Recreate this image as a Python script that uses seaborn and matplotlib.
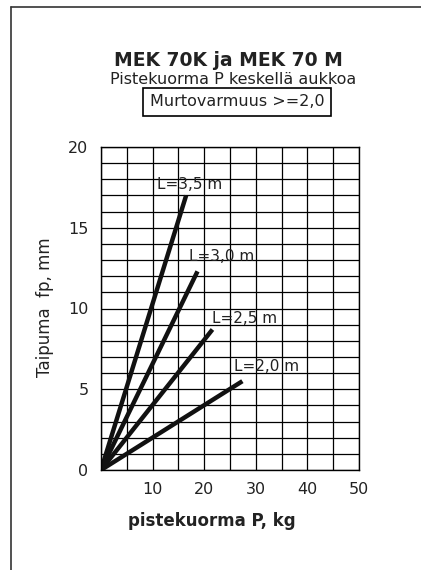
import matplotlib
matplotlib.use("Agg")
import matplotlib.pyplot as plt
import seaborn as sns
import pandas as pd
from matplotlib.lines import Line2D

sns.set_style("white")
plt.rcParams['font.family'] = ['DejaVu Sans']

# Data
spans = ["L=2,0 m", "L=2,5 m", "L=3,0 m", "L=3,5 m"]
load_end = [27.4, 21.6, 18.7, 16.5]      # kg
deflection_end = [5.5, 8.7, 12.3, 17.0]  # mm
label_x = [25.8, 21.6, 17.1, 10.8]
label_y = [6.4, 9.4, 13.2, 17.7]
x_ticks = [10, 20, 30, 40, 50]
y_ticks = [0, 5, 10, 15, 20]

rows = []
for s, xe, ye in zip(spans, load_end, deflection_end):
    rows.append({"span": s, "P": 0.0, "fp": 0.0})
    rows.append({"span": s, "P": xe, "fp": ye})
df = pd.DataFrame(rows)

W, H = 421, 570
fig = plt.figure(figsize=(W / 100, H / 100), dpi=100)
ax = fig.add_axes([101 / W, 1 - 470 / H, 258 / W, 323 / H])

ax.set_xlim(0, 50)
ax.set_ylim(0, 20)
ax.grid(True, color="black", linewidth=0.9)
ax.set_axisbelow(True)

sns.lineplot(data=df, x="P", y="fp", units="span", estimator=None,
             color="#111111", linewidth=3.2, solid_capstyle="butt", ax=ax, legend=False)

for s, lx, ly in zip(spans, label_x, label_y):
    ax.text(lx, ly, s, fontsize=11, color="#222222", va="center", ha="left")

ax.set_xticks(range(0, 51, 5))
ax.set_yticks(range(0, 21, 1))
ax.set_xticklabels([str(v) if v in x_ticks else "" for v in range(0, 51, 5)], fontsize=11.5, color="#222222")
ax.set_yticklabels([str(v) if v in y_ticks else "" for v in range(0, 21, 1)], fontsize=11.5, color="#222222")
ax.tick_params(axis="x", length=0, pad=9)
ax.tick_params(axis="y", length=0, pad=9)
for sp in ax.spines.values():
    sp.set_visible(True)
    sp.set_color("black")
    sp.set_linewidth(1.0)
ax.set_xlabel("")
ax.set_ylabel("")

fig.text(212 / W, 1 - 521 / H, "pistekuorma P, kg", ha="center", va="center",
         fontsize=12, fontweight="bold", color="#222222")
fig.text(45 / W, 1 - 307 / H, "Taipuma  fp, mm", ha="center", va="center",
         rotation=90, fontsize=12, color="#222222")

fig.text(228 / W, 1 - 60 / H, "MEK 70K ja MEK 70 M", ha="center", va="center",
         fontsize=13.5, fontweight="bold", color="#222222")
fig.text(233 / W, 1 - 79 / H, "Pistekuorma P keskellä aukkoa", ha="center", va="center",
         fontsize=11.5, color="#222222")
fig.text(237 / W, 1 - 102 / H, "Murtovarmuus >=2,0", ha="center", va="center", fontsize=11.5,
         color="#222222",
         bbox=dict(boxstyle="square,pad=0.4", facecolor="white", edgecolor="black", linewidth=1.2))

# page frame
fig.add_artist(Line2D([11 / W, 1], [1 - 7 / H, 1 - 7 / H], transform=fig.transFigure, color="#333333", linewidth=1.2))
fig.add_artist(Line2D([11 / W, 11 / W], [0, 1 - 7 / H], transform=fig.transFigure, color="#333333", linewidth=1.2))

fig.savefig("out.png", dpi=100)
